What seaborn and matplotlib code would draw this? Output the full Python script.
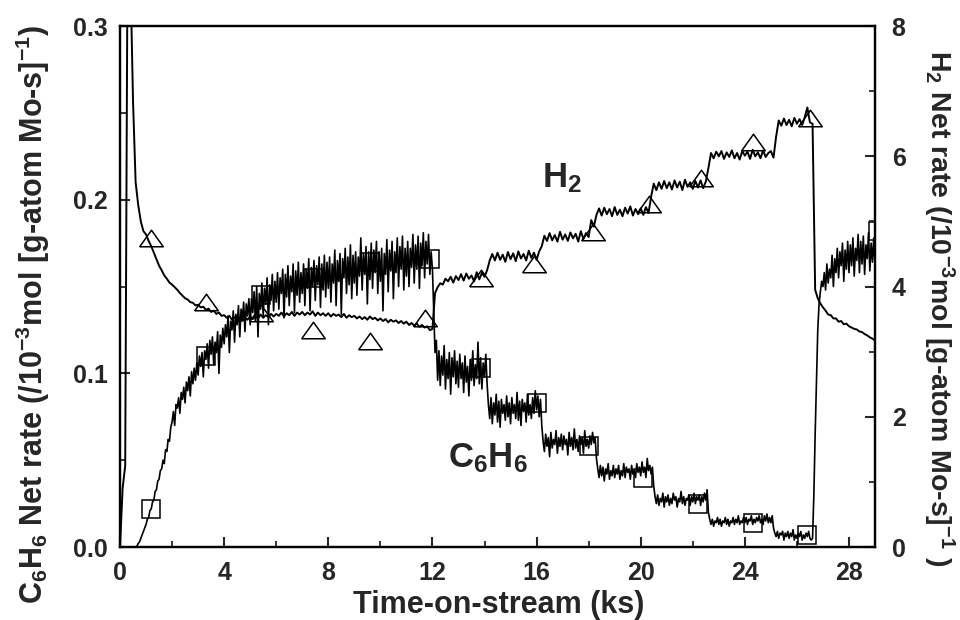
import numpy as np
import matplotlib
matplotlib.use('Agg')
import matplotlib.pyplot as plt
from matplotlib.ticker import MultipleLocator, FormatStrFormatter
import seaborn as sns

# ---------------- data ----------------
c6h6_step_ks = 0.05   # sampling interval of the C6H6 trace (ks)
h2_step_ks = 0.1      # sampling interval of the H2 trace (ks)

# C6H6 net rate (left axis), one row = 1 ks (20 samples)
c6h6_rate = [
    0.000, 0.000, 0.000, 0.000, 0.000, 0.000, 0.000, 0.000, 0.000, 0.000, 0.000, 0.000, 0.000, 0.0005, 0.002, 0.003, 0.005, 0.007, 0.009, 0.011,
    0.013, 0.016, 0.017, 0.021, 0.022, 0.026, 0.027, 0.032, 0.033, 0.038, 0.039, 0.044, 0.045, 0.050, 0.048, 0.056, 0.055, 0.062, 0.061, 0.069,
    0.072, 0.078, 0.070, 0.082, 0.080, 0.086, 0.077, 0.089, 0.085, 0.092, 0.083, 0.095, 0.090, 0.098, 0.087, 0.101, 0.094, 0.103, 0.096, 0.106,
    0.099, 0.110, 0.104, 0.112, 0.098, 0.113, 0.108, 0.117, 0.103, 0.119, 0.111, 0.121, 0.105, 0.118, 0.112, 0.124, 0.100, 0.122, 0.115, 0.126,
    0.117, 0.128, 0.121, 0.133, 0.112, 0.130, 0.125, 0.136, 0.118, 0.134, 0.128, 0.139, 0.121, 0.137, 0.131, 0.141, 0.124, 0.140, 0.133, 0.143,
    0.128, 0.143, 0.135, 0.147, 0.130, 0.150, 0.121, 0.146, 0.137, 0.152, 0.133, 0.149, 0.140, 0.155, 0.128, 0.151, 0.142, 0.157, 0.136, 0.153,
    0.141, 0.158, 0.137, 0.155, 0.146, 0.160, 0.132, 0.157, 0.144, 0.162, 0.139, 0.156, 0.147, 0.163, 0.135, 0.159, 0.145, 0.164, 0.141, 0.158,
    0.146, 0.163, 0.139, 0.160, 0.149, 0.166, 0.136, 0.161, 0.150, 0.165, 0.142, 0.162, 0.151, 0.167, 0.138, 0.163, 0.148, 0.168, 0.144, 0.164,
    0.149, 0.167, 0.141, 0.163, 0.152, 0.171, 0.139, 0.165, 0.153, 0.169, 0.134, 0.166, 0.155, 0.172, 0.146, 0.167, 0.151, 0.174, 0.143, 0.168,
    0.152, 0.170, 0.145, 0.167, 0.156, 0.178, 0.148, 0.169, 0.157, 0.173, 0.140, 0.170, 0.154, 0.175, 0.149, 0.171, 0.158, 0.176, 0.146, 0.170,
    0.153, 0.172, 0.136, 0.169, 0.157, 0.177, 0.147, 0.171, 0.159, 0.176, 0.143, 0.170, 0.158, 0.178, 0.150, 0.173, 0.160, 0.179, 0.148, 0.172,
    0.156, 0.176, 0.150, 0.172, 0.161, 0.180, 0.152, 0.174, 0.160, 0.179, 0.149, 0.175, 0.162, 0.181, 0.155, 0.176, 0.163, 0.180, 0.157, 0.170,
    0.160, 0.135, 0.112, 0.119, 0.096, 0.113, 0.093, 0.110, 0.099, 0.116, 0.091, 0.108, 0.097, 0.112, 0.088, 0.109, 0.098, 0.113, 0.094, 0.107,
    0.092, 0.111, 0.097, 0.106, 0.089, 0.110, 0.095, 0.104, 0.087, 0.108, 0.096, 0.113, 0.093, 0.105, 0.097, 0.118, 0.094, 0.109, 0.091, 0.106,
    0.098, 0.111, 0.094, 0.082, 0.074, 0.086, 0.071, 0.083, 0.076, 0.088, 0.072, 0.084, 0.069, 0.085, 0.077, 0.082, 0.073, 0.087, 0.075, 0.083,
    0.071, 0.086, 0.077, 0.082, 0.074, 0.089, 0.073, 0.084, 0.070, 0.085, 0.078, 0.083, 0.072, 0.088, 0.076, 0.082, 0.074, 0.086, 0.077, 0.090,
    0.079, 0.087, 0.075, 0.085, 0.070, 0.061, 0.055, 0.065, 0.058, 0.063, 0.052, 0.066, 0.057, 0.062, 0.059, 0.067, 0.054, 0.063, 0.058, 0.065,
    0.056, 0.064, 0.059, 0.062, 0.053, 0.066, 0.058, 0.063, 0.056, 0.068, 0.057, 0.062, 0.055, 0.064, 0.059, 0.063, 0.054, 0.067, 0.058, 0.062,
    0.057, 0.064, 0.059, 0.066, 0.060, 0.063, 0.051, 0.045, 0.040, 0.047, 0.041, 0.046, 0.038, 0.045, 0.042, 0.048, 0.039, 0.044, 0.041, 0.047,
    0.040, 0.045, 0.042, 0.047, 0.039, 0.044, 0.041, 0.048, 0.040, 0.046, 0.043, 0.045, 0.039, 0.047, 0.042, 0.044, 0.040, 0.048, 0.043, 0.046,
    0.041, 0.049, 0.043, 0.046, 0.040, 0.051, 0.044, 0.047, 0.042, 0.046, 0.035, 0.029, 0.025, 0.030, 0.024, 0.028, 0.026, 0.031, 0.023, 0.029,
    0.026, 0.030, 0.024, 0.028, 0.025, 0.031, 0.027, 0.029, 0.023, 0.028, 0.026, 0.032, 0.025, 0.029, 0.024, 0.028, 0.027, 0.030, 0.024, 0.029,
    0.026, 0.031, 0.025, 0.029, 0.027, 0.030, 0.024, 0.029, 0.026, 0.031, 0.027, 0.033, 0.020, 0.016, 0.013, 0.016, 0.012, 0.015, 0.014, 0.017,
    0.013, 0.016, 0.012, 0.015, 0.014, 0.017, 0.013, 0.016, 0.012, 0.015, 0.014, 0.017, 0.013, 0.016, 0.014, 0.018, 0.013, 0.015, 0.014, 0.017,
    0.014, 0.017, 0.013, 0.016, 0.015, 0.018, 0.013, 0.016, 0.014, 0.017, 0.015, 0.018, 0.014, 0.016, 0.013, 0.018, 0.015, 0.019, 0.014, 0.017,
    0.014, 0.018, 0.011, 0.008, 0.006, 0.009, 0.005, 0.008, 0.007, 0.009, 0.004, 0.008, 0.006, 0.009, 0.005, 0.008, 0.006, 0.010, 0.004, 0.007,
    0.005, 0.008, 0.006, 0.009, 0.004, 0.007, 0.005, 0.008, 0.006, 0.009, 0.005, 0.004, 0.005, 0.030, 0.065, 0.095, 0.125, 0.140, 0.147, 0.153,
    0.150, 0.158, 0.148, 0.163, 0.152, 0.160, 0.155, 0.168, 0.150, 0.166, 0.158, 0.172, 0.155, 0.170, 0.162, 0.175, 0.153, 0.171, 0.160, 0.176,
    0.158, 0.174, 0.162, 0.178, 0.156, 0.172, 0.165, 0.180, 0.158, 0.176, 0.163, 0.179, 0.157, 0.174, 0.166, 0.181, 0.159, 0.175, 0.164, 0.178,
    0.162,
]

# H2 net rate (right axis), one row = 1 ks (10 samples)
h2_rate = [
    0.00, 0.90, 1.25, 10.0, 8.80, 6.85, 5.60, 5.25, 5.00, 4.85,
    4.80, 4.70, 4.62, 4.52, 4.42, 4.32, 4.25, 4.17, 4.12, 4.06,
    4.03, 3.99, 3.95, 3.90, 3.86, 3.82, 3.80, 3.76, 3.75, 3.71,
    3.72, 3.68, 3.69, 3.64, 3.66, 3.61, 3.63, 3.58, 3.60, 3.55,
    3.56, 3.52, 3.55, 3.49, 3.53, 3.48, 3.52, 3.47, 3.53, 3.49,
    3.54, 3.50, 3.55, 3.51, 3.57, 3.52, 3.56, 3.53, 3.58, 3.54,
    3.58, 3.55, 3.60, 3.54, 3.59, 3.56, 3.61, 3.55, 3.60, 3.57,
    3.61, 3.56, 3.60, 3.57, 3.62, 3.55, 3.60, 3.56, 3.59, 3.55,
    3.59, 3.54, 3.58, 3.55, 3.57, 3.53, 3.58, 3.52, 3.56, 3.53,
    3.55, 3.51, 3.54, 3.50, 3.53, 3.49, 3.54, 3.50, 3.52, 3.48,
    3.51, 3.47, 3.50, 3.45, 3.49, 3.46, 3.48, 3.44, 3.47, 3.43,
    3.46, 3.41, 3.44, 3.40, 3.43, 3.38, 3.41, 3.37, 3.39, 3.33,
    3.35, 3.90, 3.99, 4.05, 4.03, 4.12, 4.08, 4.15, 4.06, 4.16,
    4.10, 4.19, 4.09, 4.20, 4.12, 4.17, 4.08, 4.22, 4.11, 4.21,
    4.15, 4.25, 4.40, 4.50, 4.40, 4.52, 4.41, 4.49, 4.38, 4.53,
    4.42, 4.51, 4.39, 4.54, 4.43, 4.50, 4.40, 4.55, 4.44, 4.52,
    4.41, 4.54, 4.62, 4.78, 4.70, 4.82, 4.71, 4.79, 4.69, 4.84,
    4.72, 4.80, 4.70, 4.83, 4.74, 4.81, 4.69, 4.85, 4.73, 4.82,
    4.76, 5.02, 4.92, 5.10, 5.20, 5.09, 5.21, 5.11, 5.19, 5.08,
    5.22, 5.10, 5.18, 5.08, 5.21, 5.12, 5.23, 5.09, 5.19, 5.11,
    5.20, 5.10, 5.22, 5.13, 5.38, 5.58, 5.48, 5.60, 5.50, 5.62,
    5.51, 5.60, 5.49, 5.63, 5.52, 5.61, 5.48, 5.64, 5.53, 5.60,
    5.50, 5.62, 5.52, 5.63, 5.51, 5.61, 5.82, 6.05, 5.97, 6.07,
    6.00, 6.08, 5.96, 6.06, 5.99, 6.09, 5.97, 6.05, 5.95, 6.08,
    6.01, 6.07, 5.96, 6.10, 6.00, 6.06, 5.97, 6.09, 5.99, 6.05,
    6.08, 5.98, 6.30, 6.55, 6.47, 6.58, 6.48, 6.56, 6.46, 6.59,
    6.50, 6.57, 6.48, 6.60, 6.75, 6.52, 6.50, 3.95, 3.82, 3.74,
    3.68, 3.63, 3.57, 3.56, 3.51, 3.51, 3.46, 3.47, 3.42, 3.43,
    3.39, 3.37, 3.35, 3.34, 3.31, 3.30, 3.27, 3.25, 3.22, 3.20,
    3.17,
]

# open-square markers on the C6H6 trace (left axis)
square_time = [1.2, 3.3, 5.4, 7.4, 9.6, 11.9, 13.85, 16.0, 18.0, 20.1, 22.2, 24.3, 26.4, 29.1]
square_c6h6 = [0.022, 0.110, 0.145, 0.155, 0.164, 0.166, 0.103, 0.083, 0.058, 0.040, 0.025, 0.014, 0.007, 0.182]

# open-triangle markers on the H2 trace (right axis)
triangle_time = [1.2, 3.3, 5.4, 7.4, 9.6, 11.7, 13.85, 15.9, 18.15, 20.3, 22.3, 24.3, 26.5]
triangle_h2 = [4.75, 3.76, 3.60, 3.33, 3.17, 3.52, 4.13, 4.35, 4.83, 5.27, 5.67, 6.22, 6.59]

x_ticks = [0, 4, 8, 12, 16, 20, 24, 28]
left_ticks = [0.0, 0.1, 0.2, 0.3]
right_ticks = [0, 2, 4, 6, 8]

# ---------------- style ----------------
sns.set_style('white')
plt.rcParams['font.family'] = ['Liberation Sans', 'DejaVu Sans']
plt.rcParams['font.weight'] = 'bold'
plt.rcParams['axes.labelweight'] = 'bold'
plt.rcParams['mathtext.fontset'] = 'custom'
plt.rcParams['mathtext.rm'] = 'Liberation Sans:bold'
plt.rcParams['mathtext.it'] = 'Liberation Sans:bold'
plt.rcParams['mathtext.bf'] = 'Liberation Sans:bold'
plt.rcParams['mathtext.default'] = 'rm'

fig = plt.figure(figsize=(9.6, 6.2), dpi=100)
ax = fig.add_axes([0.125, 0.1177, 0.7865, 0.8403])
ax2 = ax.twinx()

t_c = np.round(np.arange(len(c6h6_rate)) * c6h6_step_ks, 3)
t_h = np.round(np.arange(len(h2_rate)) * h2_step_ks, 3)

sns.lineplot(x=t_c, y=c6h6_rate, ax=ax, color='black', lw=1.2,
             estimator=None, sort=False)
sns.lineplot(x=t_h, y=h2_rate, ax=ax2, color='black', lw=1.4,
             estimator=None, sort=False)

tri = [(-1, -0.7), (1, -0.7), (0, 0.7), (-1, -0.7)]
ax.plot(square_time, square_c6h6, ls='none', marker='s', ms=13,
        mfc='none', mec='black', mew=1.1)
ax2.plot(triangle_time, triangle_h2, ls='none', marker=tri, ms=17,
         mfc='none', mec='black', mew=1.1)

ax.set_xlim(0, 29)
ax.set_ylim(0, 0.3)
ax2.set_ylim(0, 8)

ax.set_xticks(x_ticks)
ax.set_yticks(left_ticks)
ax2.set_yticks(right_ticks)
ax.xaxis.set_minor_locator(MultipleLocator(2))
ax.yaxis.set_minor_locator(MultipleLocator(0.05))
ax2.yaxis.set_minor_locator(MultipleLocator(1))
ax.yaxis.set_major_formatter(FormatStrFormatter('%.1f'))
ax2.yaxis.set_major_formatter(FormatStrFormatter('%d'))

for a in (ax, ax2):
    a.tick_params(which='major', direction='in', length=7, width=1.5,
                  labelsize=18)
    a.tick_params(which='minor', direction='in', length=4, width=1.3)
    for s in a.spines.values():
        s.set_linewidth(1.6)
        s.set_color('black')
    a.set_xlabel('')
    a.set_ylabel('')
ax.tick_params(axis='y', which='both', right=False, left=True, pad=9)
ax.tick_params(axis='x', which='both', top=False, bottom=True, pad=10)
ax2.tick_params(axis='y', which='both', right=True, left=False, pad=12)

for lab in ax.get_xticklabels() + ax.get_yticklabels() + ax2.get_yticklabels():
    lab.set_fontweight('bold')

fig.text(0.519, 1 - 613 / 620, 'Time-on-stream (ks)', ha='center',
         va='baseline', fontsize=22, fontweight='bold')

fig.text(43 / 960, 1 - 314.5 / 620,
         r'C$_6$H$_6$ Net rate (/10$^{-3}$mol [g-atom Mo-s]$^{-1}$)',
         rotation=90, rotation_mode='anchor', ha='center', va='baseline',
         fontsize=22, fontweight='bold')
fig.text(930 / 960, 1 - 308.5 / 620,
         r'H$_2$ Net rate (/10$^{-3}$mol [g-atom Mo-s]$^{-1}$ )',
         rotation=270, rotation_mode='anchor', ha='center', va='baseline',
         fontsize=20.5, fontweight='bold')

ax.text(16.2, 0.207, r'H$_2$', fontsize=25, fontweight='bold', ha='left', va='baseline')
ax.text(12.6, 0.046, r'C$_6$H$_6$', fontsize=25, fontweight='bold', ha='left', va='baseline')

fig.savefig('out.png', dpi=100)
